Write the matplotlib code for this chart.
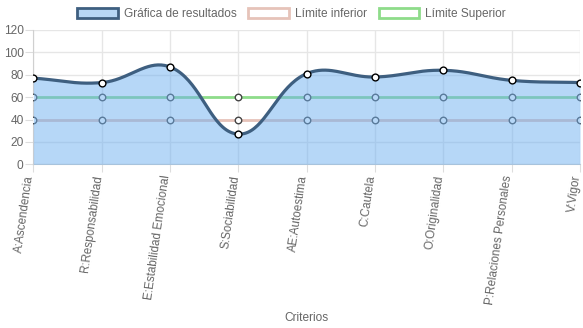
import numpy as np
import matplotlib.pyplot as plt
from matplotlib.patches import Patch
from matplotlib.transforms import ScaledTranslation

criterios = ['A:Ascendencia', 'R:Responsabilidad', 'E:Estabilidad Emocional',
             'S:Sociabilidad', 'AE:Autoestima', 'C:Cautela', 'O:Originalidad',
             'P:Relaciones Personales', 'V:Vigor']
resultados = [77, 73, 87, 27, 81, 78, 84, 75, 73]
limite_inferior = [40] * 9
limite_superior = [60] * 9

plt.rcParams['font.family'] = ['Liberation Sans', 'DejaVu Sans']

W, H = 583, 328
fig = plt.figure(figsize=(W / 100, H / 100), dpi=100)
left, right, bottom, top = 33.3, 580, 164.3, 30
ax = fig.add_axes([left / W, 1 - bottom / H, (right - left) / W, (bottom - top) / H])


def spline_curve(xs, ys, sx, sy, tension=0.4, n=40):
    # bezier control points like chart.js line tension, computed in pixel units
    px = np.asarray(xs, float) * sx
    py = np.asarray(ys, float) * sy
    m = len(px)
    cin, cout = [], []
    for i in range(m):
        prv = max(i - 1, 0)
        nxt = min(i + 1, m - 1)
        d01 = np.hypot(px[i] - px[prv], py[i] - py[prv])
        d12 = np.hypot(px[nxt] - px[i], py[nxt] - py[i])
        tot = d01 + d12
        s01 = d01 / tot if tot else 0
        s12 = d12 / tot if tot else 0
        fa, fb = tension * s01, tension * s12
        dx, dy = px[nxt] - px[prv], py[nxt] - py[prv]
        cin.append((px[i] - fa * dx, py[i] - fa * dy))
        cout.append((px[i] + fb * dx, py[i] + fb * dy))
    outx, outy = [px[0]], [py[0]]
    t = np.linspace(0, 1, n)[1:]
    for i in range(m - 1):
        p0 = np.array([px[i], py[i]])
        p1 = np.array(cout[i])
        p2 = np.array(cin[i + 1])
        p3 = np.array([px[i + 1], py[i + 1]])
        b = ((1 - t) ** 3)[:, None] * p0 + (3 * (1 - t) ** 2 * t)[:, None] * p1 \
            + (3 * (1 - t) * t ** 2)[:, None] * p2 + (t ** 3)[:, None] * p3
        outx.extend(b[:, 0])
        outy.extend(b[:, 1])
    return np.array(outx) / sx, np.array(outy) / sy


x = np.arange(len(criterios))
sx = (right - left) / (len(criterios) - 1)
sy = (bottom - top) / 120
cx, cy = spline_curve(x, resultados, sx, sy)

line_col = '#3e5f80'
fill_col = (0.43, 0.69, 0.94, 0.5)
inf_col = '#e6c3b9'
sup_col = '#8edc8a'

# limit lines sit under the translucent fill
ax.plot(x, limite_superior, color=sup_col, lw=2, zorder=2)
ax.plot(x, limite_inferior, color=inf_col, lw=2, zorder=2)
ax.scatter(x, limite_superior, s=22, facecolor='white', edgecolor='#444444', lw=1, zorder=3)
ax.scatter(x, limite_inferior, s=22, facecolor='white', edgecolor='#444444', lw=1, zorder=3)

ax.fill_between(cx, 0, cy, color=fill_col, lw=0, zorder=4)
ax.plot(cx, cy, color=line_col, lw=2.3, zorder=5, solid_capstyle='butt')
ax.scatter(x, resultados, s=24, facecolor='white', edgecolor='black', lw=1, zorder=6)

ax.set_xlim(0, len(criterios) - 1)
ax.set_ylim(0, 120)
ax.set_yticks(range(0, 121, 20))
ax.set_xticks(x)
ax.set_xticklabels(criterios, rotation=82, rotation_mode='anchor', ha='right', va='center')
ax.tick_params(axis='x', length=6, color='#dddddd', labelsize=8.4, labelcolor='#666666', pad=2)
ax.tick_params(axis='y', length=6, color='#dddddd', labelsize=8.6, labelcolor='#666666', pad=1)
shift = ScaledTranslation(-3 / 100, 0, fig.dpi_scale_trans)
for lbl in ax.get_xticklabels():
    lbl.set_transform(lbl.get_transform() + shift)
ax.grid(True, color='#e6e6e6', lw=1, zorder=0)
ax.set_axisbelow(True)
for side in ['top', 'right']:
    ax.spines[side].set_visible(False)
for side in ['left', 'bottom']:
    ax.spines[side].set_color('#d0d0d0')

ax.set_xlabel('Criterios', fontsize=8.6, color='#666666')
ax.xaxis.set_label_coords(0.5, -(312 - bottom) / (bottom - top))

handles = [
    Patch(facecolor='#b7d7f5', edgecolor=line_col, lw=2, label='Gráfica de resultados'),
    Patch(facecolor='white', edgecolor=inf_col, lw=2, label='Límite inferior'),
    Patch(facecolor='white', edgecolor=sup_col, lw=2, label='Límite Superior'),
]
fig.legend(handles=handles, loc='center', bbox_to_anchor=(0.5, 1 - 14 / H), ncol=3,
           frameon=False, fontsize=8.6, labelcolor='#666666', handlelength=3.4,
           handleheight=1.0, handletextpad=0.5, columnspacing=1.0)

fig.savefig('out.png', dpi=100)
